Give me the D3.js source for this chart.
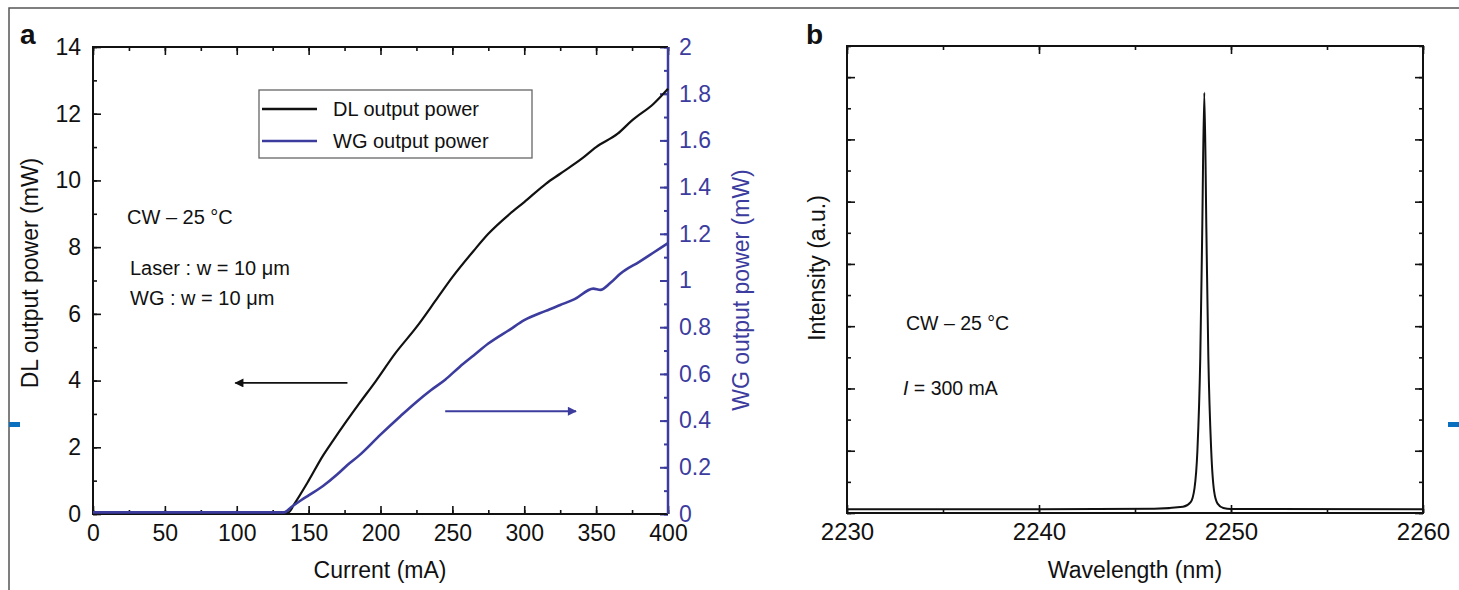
<!DOCTYPE html>
<meta charset="utf-8">
<style>
body {
  margin: 0;
  background: #fff;
  font-family: "Liberation Sans", Arial, Helvetica, sans-serif;
}
text { fill: #111; }
.axis path { display: none; }
.axis line { stroke: #111; stroke-width: 1.6; }
.axis text { font-size: 23px; fill: #111; }
.axis.bigger text { font-size: 24px; }
.axis.blue line { stroke: #3c3c9e; stroke-width: 2; }
.axis.blue text { fill: #3c3c9e; }
.frame { fill: none; stroke: #111; stroke-width: 2; }
.title { font-size: 23px; }
.note { font-size: 20px; }
.noteb { font-size: 19.5px; }
</style>
<body>
<script src="https://cdn.jsdelivr.net/npm/d3@7"></script>
<script>

var width = 1459,
    height = 590,
    blue = "#3c3c9e";

// panel a : L-I curves
var dlCurrent = [0, 60, 133, 136, 140, 150, 160, 167, 175, 185, 197, 210, 225, 240, 250, 265, 275, 290, 300, 315, 325, 340, 350, 365, 375, 390, 400];
var dlPower   = [0.05, 0.05, 0.05, 0.05, 0.3, 1.0, 1.75, 2.2, 2.7, 3.3, 4.0, 4.8, 5.6, 6.5, 7.1, 7.9, 8.4, 9.0, 9.35, 9.9, 10.2, 10.65, 11.0, 11.4, 11.8, 12.3, 12.75];

var wgCurrent = [0, 60, 133, 138, 145, 150, 160, 170, 177, 185, 200, 214, 225, 235, 245, 255, 265, 275, 290, 300, 315, 325, 335, 348, 353, 360, 367, 380, 390, 400];
var wgPower   = [0.007, 0.007, 0.007, 0.03, 0.06, 0.08, 0.12, 0.17, 0.21, 0.25, 0.34, 0.42, 0.48, 0.53, 0.575, 0.63, 0.68, 0.73, 0.79, 0.83, 0.87, 0.895, 0.92, 0.965, 0.96, 0.99, 1.03, 1.08, 1.12, 1.16];

var aXTicks = [0, 50, 100, 150, 200, 250, 300, 350, 400];
var aYLeftTicks = [0, 2, 4, 6, 8, 10, 12, 14];
var aYRightTicks = [0, 0.2, 0.4, 0.6, 0.8, 1, 1.2, 1.4, 1.6, 1.8, 2];

// panel b : emission spectrum
var wavelength = [2230, 2240, 2246, 2247.5, 2247.9, 2248.1, 2248.25, 2248.4, 2248.5, 2248.61, 2248.72, 2248.82, 2248.97, 2249.12, 2249.3, 2249.6, 2250, 2260];
var intensity  = [0.12, 0.12, 0.14, 0.2, 0.35, 0.8, 2.0, 5.0, 9.0, 13.5, 9.0, 5.0, 2.0, 0.7, 0.3, 0.16, 0.13, 0.12];

var bXTicks = [2230, 2240, 2250, 2260];

var svg = d3.select("body").append("svg")
    .attr("width", width)
    .attr("height", height);

// outer figure border and page marks
svg.append("path")
    .attr("d", "M9,590V8H1459")
    .attr("fill", "none")
    .attr("stroke", "#555")
    .attr("stroke-width", 1.5);
svg.append("rect").attr("x", 9).attr("y", 422).attr("width", 11).attr("height", 5).attr("fill", "#0b6fc0");
svg.append("rect").attr("x", 1448).attr("y", 422).attr("width", 11).attr("height", 5).attr("fill", "#0b6fc0");

function minors(lo, hi, step) {
  var out = [];
  for (var v = lo; v <= hi + 1e-9; v += step) out.push(+v.toFixed(6));
  return out;
}

function tickAxis(g, axis, cls) {
  g.append("g").attr("class", "axis " + (cls || "")).call(axis);
}

// ---------- panel a ----------
var x = d3.scaleLinear().domain([0, 400]).range([93, 668]);
var yL = d3.scaleLinear().domain([0, 14]).range([514, 47]);
var yR = d3.scaleLinear().domain([0, 2]).range([514, 47]);

var ga = svg.append("g");

ga.append("g").attr("transform", "translate(0,514)")
  .call(function(g) {
    tickAxis(g, d3.axisBottom(x).tickValues(minors(0, 400, 25)).tickSize(-4).tickFormat(""));
    tickAxis(g, d3.axisBottom(x).tickValues(aXTicks).tickSize(-8).tickPadding(11).tickFormat(d3.format("d")));
  });
ga.append("g").attr("transform", "translate(0,47)")
  .call(function(g) {
    tickAxis(g, d3.axisTop(x).tickValues(minors(0, 400, 25)).tickSize(-4).tickFormat(""));
    tickAxis(g, d3.axisTop(x).tickValues(aXTicks).tickSize(-8).tickFormat(""));
  });
ga.append("g").attr("transform", "translate(93,0)")
  .call(function(g) {
    tickAxis(g, d3.axisLeft(yL).tickValues(minors(0, 14, 1)).tickSize(-4).tickFormat(""));
    tickAxis(g, d3.axisLeft(yL).tickValues(aYLeftTicks).tickSize(-8).tickPadding(12).tickFormat(d3.format("d")));
  });
ga.append("g").attr("transform", "translate(668,0)")
  .call(function(g) {
    tickAxis(g, d3.axisRight(yR).tickValues(minors(0, 2, 0.1)).tickSize(-4).tickFormat(""), "blue");
    tickAxis(g, d3.axisRight(yR).tickValues(aYRightTicks).tickSize(-8).tickPadding(11).tickFormat(d3.format("~g")), "blue");
  });

// frame: black left/top/bottom, blue right
ga.append("path")
    .attr("d", "M668,47H93V514H668")
    .attr("fill", "none").attr("stroke", "#111").attr("stroke-width", 2);
ga.append("line")
    .attr("x1", 668).attr("x2", 668).attr("y1", 47).attr("y2", 514)
    .attr("stroke", blue).attr("stroke-width", 2.5);

var lineDL = d3.line()
    .x(function(d, i) { return x(dlCurrent[i]); })
    .y(function(d) { return yL(d); })
    .curve(d3.curveMonotoneX);
var lineWG = d3.line()
    .x(function(d, i) { return x(wgCurrent[i]); })
    .y(function(d) { return yR(d); })
    .curve(d3.curveMonotoneX);

ga.append("path").datum(dlPower)
    .attr("d", lineDL)
    .attr("fill", "none").attr("stroke", "#111").attr("stroke-width", 2.2).attr("stroke-linejoin", "round");
ga.append("path").datum(wgPower)
    .attr("d", lineWG)
    .attr("fill", "none").attr("stroke", blue).attr("stroke-width", 2.6).attr("stroke-linejoin", "round");

// legend
var leg = ga.append("g");
leg.append("rect").attr("x", 259).attr("y", 90).attr("width", 273).attr("height", 68)
    .attr("fill", "#fff").attr("stroke", "#666").attr("stroke-width", 1.3);
[["DL output power", "#111"], ["WG output power", blue]].forEach(function(d, i) {
  var yy = 109 + i * 32;
  leg.append("line").attr("x1", 262).attr("x2", 317).attr("y1", yy).attr("y2", yy)
      .attr("stroke", d[1]).attr("stroke-width", 2.5);
  leg.append("text").attr("x", 333).attr("y", yy + 7).attr("class", "note").text(d[0]);
});

// arrows
var defs = svg.append("defs");
[["arrK", "#111"], ["arrB", blue]].forEach(function(d) {
  defs.append("marker").attr("id", d[0])
      .attr("viewBox", "0 0 10 10").attr("refX", 9).attr("refY", 5)
      .attr("markerWidth", 14).attr("markerHeight", 9)
      .attr("markerUnits", "userSpaceOnUse").attr("orient", "auto")
    .append("path").attr("d", "M0,0L10,5L0,10Z").attr("fill", d[1]);
});
ga.append("line")
    .attr("x1", x(177)).attr("x2", x(99)).attr("y1", yL(3.93)).attr("y2", yL(3.93))
    .attr("stroke", "#111").attr("stroke-width", 1.8).attr("marker-end", "url(#arrK)");
ga.append("line")
    .attr("x1", x(245)).attr("x2", x(336)).attr("y1", yR(0.44)).attr("y2", yR(0.44))
    .attr("stroke", blue).attr("stroke-width", 1.8).attr("marker-end", "url(#arrB)");

ga.append("text").attr("class", "note").attr("x", 127).attr("y", 224).text("CW \u2013 25 \u00B0C");
ga.append("text").attr("class", "note").attr("x", 130).attr("y", 275).text("Laser : w = 10 \u03BCm");
ga.append("text").attr("class", "note").attr("x", 130).attr("y", 305).text("WG : w = 10 \u03BCm");

ga.append("text").attr("class", "title").attr("text-anchor", "middle")
    .attr("x", 380).attr("y", 578).text("Current (mA)");
ga.append("text").attr("class", "title").attr("text-anchor", "middle")
    .attr("transform", "translate(38,273) rotate(-90)").text("DL output power (mW)");
ga.append("text").attr("class", "title").attr("text-anchor", "middle")
    .attr("transform", "translate(749,290) rotate(-90)").style("fill", blue).text("WG output power (mW)");
ga.append("text").attr("x", 20).attr("y", 44).style("font-size", "28px").style("font-weight", "bold").text("a");

// ---------- panel b ----------
var xb = d3.scaleLinear().domain([2230, 2260]).range([847, 1423]);
var yb = d3.scaleLinear().domain([0, 15]).range([513, 46]);

var gb = svg.append("g");

gb.append("g").attr("transform", "translate(0,513)")
  .call(function(g) {
    tickAxis(g, d3.axisBottom(xb).tickValues(minors(2230, 2260, 5)).tickSize(-4).tickFormat(""));
    tickAxis(g, d3.axisBottom(xb).tickValues(bXTicks).tickSize(-8).tickPadding(10).tickFormat(d3.format("d")), "bigger");
  });
gb.append("g").attr("transform", "translate(0,46)")
  .call(function(g) {
    tickAxis(g, d3.axisTop(xb).tickValues(minors(2230, 2260, 5)).tickSize(-4).tickFormat(""));
    tickAxis(g, d3.axisTop(xb).tickValues(bXTicks).tickSize(-8).tickFormat(""));
  });
gb.append("g").attr("transform", "translate(847,0)")
  .call(function(g) {
    tickAxis(g, d3.axisLeft(yb).tickValues(minors(0, 15, 1)).tickSize(-4).tickFormat(""));
    tickAxis(g, d3.axisLeft(yb).tickValues(minors(0, 14, 2)).tickSize(-8).tickFormat(""));
  });
gb.append("g").attr("transform", "translate(1423,0)")
  .call(function(g) {
    tickAxis(g, d3.axisRight(yb).tickValues(minors(0, 15, 1)).tickSize(-4).tickFormat(""));
    tickAxis(g, d3.axisRight(yb).tickValues(minors(0, 14, 2)).tickSize(-8).tickFormat(""));
  });
gb.append("rect").attr("class", "frame")
    .attr("x", 847).attr("y", 46).attr("width", 1423 - 847).attr("height", 513 - 46);

gb.append("path").datum(intensity)
    .attr("d", d3.line()
      .x(function(d, i) { return xb(wavelength[i]); })
      .y(function(d) { return yb(d); })
      .curve(d3.curveMonotoneX))
    .attr("fill", "none").attr("stroke", "#111").attr("stroke-width", 2).attr("stroke-linejoin", "round");

gb.append("text").attr("class", "noteb").attr("x", 906).attr("y", 330).text("CW \u2013 25 \u00B0C");
var tI = gb.append("text").attr("class", "noteb").attr("x", 903).attr("y", 395);
tI.append("tspan").style("font-style", "italic").text("I");
tI.append("tspan").text(" = 300 mA");

gb.append("text").attr("class", "title").attr("text-anchor", "middle")
    .attr("x", 1135).attr("y", 578).text("Wavelength (nm)");
gb.append("text").attr("class", "title").attr("text-anchor", "middle")
    .attr("transform", "translate(825,268) rotate(-90)").text("Intensity (a.u.)");
gb.append("text").attr("x", 806).attr("y", 44).style("font-size", "28px").style("font-weight", "bold").text("b");

</script>
